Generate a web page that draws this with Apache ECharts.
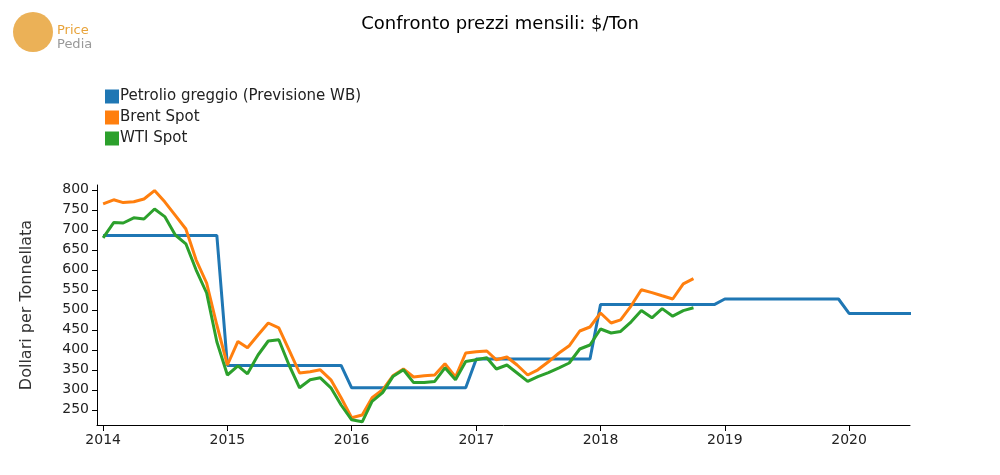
<!DOCTYPE html>
<html><head><meta charset="utf-8">
<script src="https://cdn.jsdelivr.net/npm/echarts@6/dist/echarts.min.js"></script>
<style>html,body{margin:0;background:#fff}#c{width:1000px;height:475px}</style>
</head><body><div id="c"></div>
<script>
// monthly values from Jan 2014
const brent = [765,775,768,770,777,798,770,736,702,625,567,462,
  362,421,405,437,467,455,400,342,345,350,325,280,
  230,237,280,300,335,352,332,335,337,365,332,392,
  395,397,375,382,362,337,350,370,392,410,447,457,
  492,467,475,510,550,543,535,527,565,578];
const wti = [680,718,717,730,727,752,733,687,665,600,542,420,
  337,360,340,387,422,425,362,305,325,330,305,262,
  225,220,271,293,333,350,318,318,321,355,325,371,
  375,380,352,362,342,321,333,343,355,367,402,412,
  452,442,446,470,498,480,503,484,498,505];
// World Bank forecast, one value per year 2014..2020 (2020 shown to July)
const wbYears = [2014,2015,2016,2017,2018,2019,2020];
const wbValues = [686,361,305,377,513,527,491];
const seriesNames = ['Petrolio greggio (Previsione WB)','Brent Spot','WTI Spot'];

const toDate = i => new Date(Date.UTC(2014 + Math.floor(i / 12), i % 12, 1));
const wb = [];
wbYears.forEach((y, k) => {
  const months = y === 2020 ? 7 : 12;
  for (let m = 0; m < months; m++) wb.push([Date.UTC(y, m, 1), wbValues[k]]);
});

const chart = echarts.init(document.getElementById('c'));
const font = 'DejaVu Sans';
chart.setOption({
  textStyle: { fontFamily: font },
  color: ['#1f77b4', '#ff7f0e', '#2ca02c'],
  animation: false,
  title: { text: 'Confronto prezzi mensili: $/Ton', left: 'center', top: 10,
    textStyle: { fontFamily: font, fontSize: 18, fontWeight: 'normal', color: '#000' } },
  graphic: [
    { type: 'circle', shape: { cx: 33, cy: 32, r: 20 }, style: { fill: '#e8a33a', opacity: 0.85 } },
    { type: 'text', left: 57, top: 24, style: { text: 'Price', fill: '#e8a33a', font: '13px DejaVu Sans' } },
    { type: 'text', left: 57, top: 38, style: { text: 'Pedia', fill: '#999', font: '13px DejaVu Sans' } }
  ],
  legend: { orient: 'vertical', left: 100, top: 84, itemGap: 6, itemWidth: 14, itemHeight: 14,
    icon: 'rect', data: seriesNames, textStyle: { fontSize: 15, color: '#222', padding: [0, 0, 0, -4] } },
  grid: { left: 97, right: 90, top: 185, bottom: 50 },
  xAxis: {
    type: 'time', min: Date.UTC(2013, 11, 14), max: Date.UTC(2020, 5, 28),
    splitNumber: 7,
    axisLine: { lineStyle: { color: '#000' } },
    axisTick: { lineStyle: { color: '#000' }, length: 6 },
    axisLabel: { color: '#222', fontSize: 14, formatter: '{yyyy}', hideOverlap: true },
    splitLine: { show: false }
  },
  yAxis: {
    type: 'value', min: 212, max: 812, splitNumber: 12,
    name: 'Dollari per Tonnellata', nameLocation: 'middle', nameGap: 62,
    nameTextStyle: { fontSize: 16, color: '#333' },
    axisLine: { show: true, lineStyle: { color: '#000' } },
    axisTick: { show: true, lineStyle: { color: '#000' } },
    axisLabel: { color: '#222', fontSize: 14, showMinLabel: false, showMaxLabel: false },
    splitLine: { show: false }
  },
  series: [
    { name: seriesNames[0], type: 'line', symbol: 'none', data: wb, lineStyle: { width: 3 } },
    { name: seriesNames[1], type: 'line', symbol: 'none', data: brent.map((v, i) => [toDate(i), v]), lineStyle: { width: 3 } },
    { name: seriesNames[2], type: 'line', symbol: 'none', data: wti.map((v, i) => [toDate(i), v]), lineStyle: { width: 3 } }
  ]
});
</script></body></html>
